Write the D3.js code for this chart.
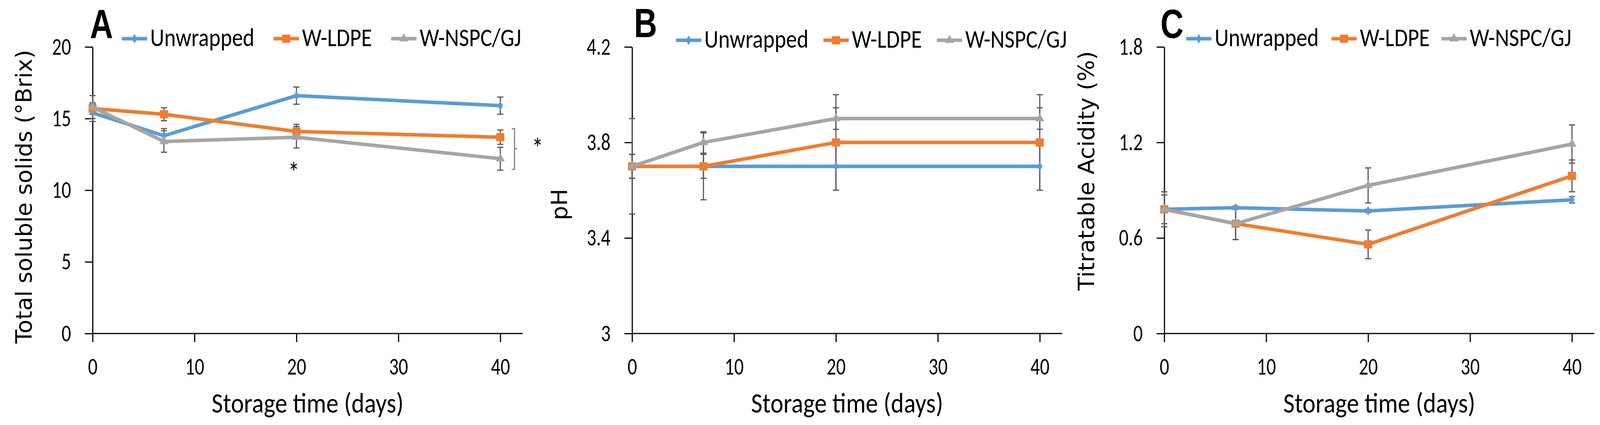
<!DOCTYPE html>
<html>
<head>
<meta charset="utf-8">
<script src="https://cdn.jsdelivr.net/npm/d3@7"></script>
<style>
  html, body { margin: 0; padding: 0; overflow: hidden; background: #fff; }
  svg { display: block; width: 100vw; height: 100vh; }
  .tick text { font-family: Carlito, "Liberation Sans Narrow", sans-serif; font-size: 49px; fill: #000; }
  .legend text { font-family: Carlito, "Liberation Sans Narrow", sans-serif; font-size: 57px; fill: #000; }
  .xtitle { font-family: Carlito, "Liberation Sans Narrow", sans-serif; font-size: 64px; fill: #000; }
  .ytitle { font-family: "DejaVu Sans", Verdana, sans-serif; font-size: 58px; fill: #000; }
  .letter { font-family: "Liberation Sans", sans-serif; font-weight: bold; font-size: 104px; fill: #000; }
  .star { font-family: Carlito, "Liberation Sans Narrow", sans-serif; font-size: 60px; fill: #000; }
</style>
</head>
<body>
<div id="chart"></div>
<script>
// storage days and series
var days = [0, 7, 20, 40];
var seriesNames = ["Unwrapped", "W-LDPE", "W-NSPC/GJ"];
var seriesColors = ["#5B9BD5", "#ED7D31", "#A5A5A5"];
var xTicks = [0, 10, 20, 30, 40];

// A - total soluble solids (°Brix)
var tssUnwrapped = [15.4, 13.8, 16.6, 15.9];
var tssLDPE = [15.7, 15.3, 14.1, 13.7];
var tssNSPC = [15.8, 13.4, 13.7, 12.2];
var tssUnwrappedErr = [0.6, 0.5, 0.6, 0.6];
var tssLDPEErr = [0.4, 0.45, 0.5, 0.5];
var tssNSPCErr = [0.8, 0.75, 0.75, 0.8];
var tssTicks = [0, 5, 10, 15, 20];

// B - pH
var phUnwrapped = [3.7, 3.7, 3.7, 3.7];
var phLDPE = [3.7, 3.7, 3.8, 3.8];
var phNSPC = [3.7, 3.8, 3.9, 3.9];
var phUnwrappedErr = [0.05, 0.05, 0.1, 0.1];
var phLDPEErr = [0.05, 0.14, 0.2, 0.2];
var phNSPCErr = [0.2, 0.045, 0.045, 0.045];
var phTicks = [3, 3.4, 3.8, 4.2];

// C - titratable acidity (%)
var taUnwrapped = [0.78, 0.79, 0.77, 0.84];
var taLDPE = [0.78, 0.69, 0.56, 0.99];
var taNSPC = [0.78, 0.69, 0.93, 1.19];
var taUnwrappedErr = [0.02, 0.01, 0.01, 0.02];
var taLDPEErr = [0.11, 0.1, 0.09, 0.1];
var taNSPCErr = [0.09, 0.1, 0.11, 0.12];
var taTicks = [0, 0.6, 1.2, 1.8];

var svgWidth = 4164;
var svgHeight = 1087;
var plotTop = 120;
var plotBottom = 853;
var plotW = 1061;   // width from day 0 to day 40
var xMax = 42.2;    // axis line runs a bit past 40
var stretch = 1.25; // the original figure is a bit taller than wide

// scale to whatever the window is, so nothing gets cropped
var svg = d3.select("#chart")
  .append("svg")
  .attr("viewBox", `0 0 ${svgWidth} ${svgHeight}`)
  .attr("preserveAspectRatio", "none");

var panels = [
  { letter: "A", x0: 241, ticks: tssTicks, fmt: d3.format("d"), title: "Total soluble solids (°Brix)",
    titleX: 82, titleY: 503, letterX: 234, letterY: 97,
    legendY: 99, legendX: [317, 712, 1018],
    values: [tssUnwrapped, tssLDPE, tssNSPC], errors: [tssUnwrappedErr, tssLDPEErr, tssNSPCErr] },
  { letter: "B", x0: 1645, ticks: phTicks, fmt: d => String(d), title: "pH",
    titleX: 1476, titleY: 523, letterX: 1650, letterY: 95,
    legendY: 103, legendX: [1759, 2143, 2438],
    values: [phUnwrapped, phLDPE, phNSPC], errors: [phUnwrappedErr, phLDPEErr, phNSPCErr] },
  { letter: "C", x0: 3030, ticks: taTicks, fmt: d => String(d), title: "Titratable Acidity (%)",
    titleX: 2848, titleY: 437, letterX: 3020, letterY: 97,
    legendY: 99, legendX: [3087, 3465, 3751],
    values: [taUnwrapped, taLDPE, taNSPC], errors: [taUnwrappedErr, taLDPEErr, taNSPCErr] }
];

var symbols = [
  d3.symbol().type(d3.symbolDiamond).size(170),
  d3.symbol().type(d3.symbolSquare).size(441),
  d3.symbol().type(d3.symbolTriangle).size(240)
];

// put a text at (x, y) baseline, stretched vertically
function tallText(sel, x, y, k) {
  return sel.attr("x", 0).attr("y", 0).attr("dy", null)
    .attr("transform", `translate(${x}, ${y}) scale(1, ${k})`);
}

panels.forEach(function(p) {
  var g = svg.append("g");

  var x = d3.scaleLinear()
    .domain([0, 40])
    .range([p.x0, p.x0 + plotW]);

  var y = d3.scaleLinear()
    .domain([p.ticks[0], p.ticks[p.ticks.length - 1]])
    .range([plotBottom, plotTop]);

  // axes
  var xAxis = g.append("g")
    .attr("transform", `translate(0, ${plotBottom})`)
    .call(d3.axisBottom(x).tickValues(xTicks).tickSize(22).tickSizeOuter(0));
  xAxis.select(".domain").attr("d", `M${x(0)},0H${x(xMax)}`);
  xAxis.selectAll("text").each(function() { tallText(d3.select(this), 0, 105, stretch); });

  var yAxis = g.append("g")
    .attr("transform", `translate(${p.x0}, 0)`)
    .call(d3.axisLeft(y).tickValues(p.ticks).tickFormat(p.fmt).tickSize(20).tickSizeOuter(0));
  yAxis.selectAll("text").each(function() { tallText(d3.select(this), -56, 19, stretch); });

  g.selectAll(".domain, .tick line")
    .attr("stroke", "#000")
    .attr("stroke-width", 3);

  // error bars
  p.values.forEach(function(vals, si) {
    var eb = g.append("g").attr("stroke", "#595959").attr("stroke-width", 3).attr("fill", "none");
    vals.forEach(function(v, i) {
      var e = p.errors[si][i];
      var cx = x(days[i]);
      eb.append("line").attr("x1", cx).attr("x2", cx).attr("y1", y(v - e)).attr("y2", y(v + e));
      eb.append("line").attr("x1", cx - 8).attr("x2", cx + 8).attr("y1", y(v - e)).attr("y2", y(v - e));
      eb.append("line").attr("x1", cx - 8).attr("x2", cx + 8).attr("y1", y(v + e)).attr("y2", y(v + e));
    });
  });

  // lines + markers
  p.values.forEach(function(vals, si) {
    var pts = vals.map(function(v, i) { return [days[i], v]; });
    var line = d3.line().x(d => x(d[0])).y(d => y(d[1]));
    g.append("path")
      .datum(pts)
      .attr("d", line)
      .attr("fill", "none")
      .attr("stroke", seriesColors[si])
      .attr("stroke-width", 9)
      .attr("stroke-linejoin", "round");
    g.selectAll(".m" + si)
      .data(pts)
      .enter()
      .append("path")
      .attr("d", symbols[si])
      .attr("transform", d => `translate(${x(d[0])}, ${y(d[1])})`)
      .attr("fill", seriesColors[si]);
  });

  // legend
  var lg = g.append("g").attr("class", "legend");
  seriesNames.forEach(function(name, si) {
    var lx = p.legendX[si];
    lg.append("line")
      .attr("x1", lx).attr("x2", lx + 66)
      .attr("y1", p.legendY).attr("y2", p.legendY)
      .attr("stroke", seriesColors[si]).attr("stroke-width", 9);
    lg.append("path")
      .attr("d", symbols[si])
      .attr("transform", `translate(${lx + 33}, ${p.legendY})`)
      .attr("fill", seriesColors[si]);
    tallText(lg.append("text").text(name), lx + 74, p.legendY + 19, 1.15);
  });

  // titles (panel letter squeezed to look like a narrow bold face)
  g.append("text")
    .attr("class", "letter")
    .attr("transform", `translate(${p.letterX}, ${p.letterY}) scale(0.8, 1)`)
    .text(p.letter);

  g.append("text")
    .attr("class", "ytitle")
    .attr("transform", `translate(${p.titleX}, ${p.titleY}) rotate(-90)`)
    .attr("text-anchor", "middle")
    .text(p.title);

  tallText(g.append("text").attr("class", "xtitle").attr("text-anchor", "middle").text("Storage time (days)"),
    (x(0) + x(xMax)) / 2, 1055, 1.14);
});

// significance marks on panel A
var xA = d3.scaleLinear().domain([0, 40]).range([241, 241 + plotW]);
var yA = d3.scaleLinear().domain([0, 20]).range([plotBottom, plotTop]);

tallText(svg.append("text").attr("class", "star").attr("text-anchor", "middle").text("*"),
  xA(20) - 7, yA(11.4) + 30, 1.2);

var bx = xA(40) + 37;
svg.append("path")
  .attr("d", `M${bx - 7},${yA(14.3)}H${bx}V${yA(11.45)}H${bx - 7}M${bx},${yA(12.9)}H${bx + 7}`)
  .attr("fill", "none")
  .attr("stroke", "#7f7f7f")
  .attr("stroke-width", 3);

tallText(svg.append("text").attr("class", "star").attr("text-anchor", "middle").text("*"),
  bx + 60, yA(13.1) + 30, 1.2);
</script>
</body>
</html>
